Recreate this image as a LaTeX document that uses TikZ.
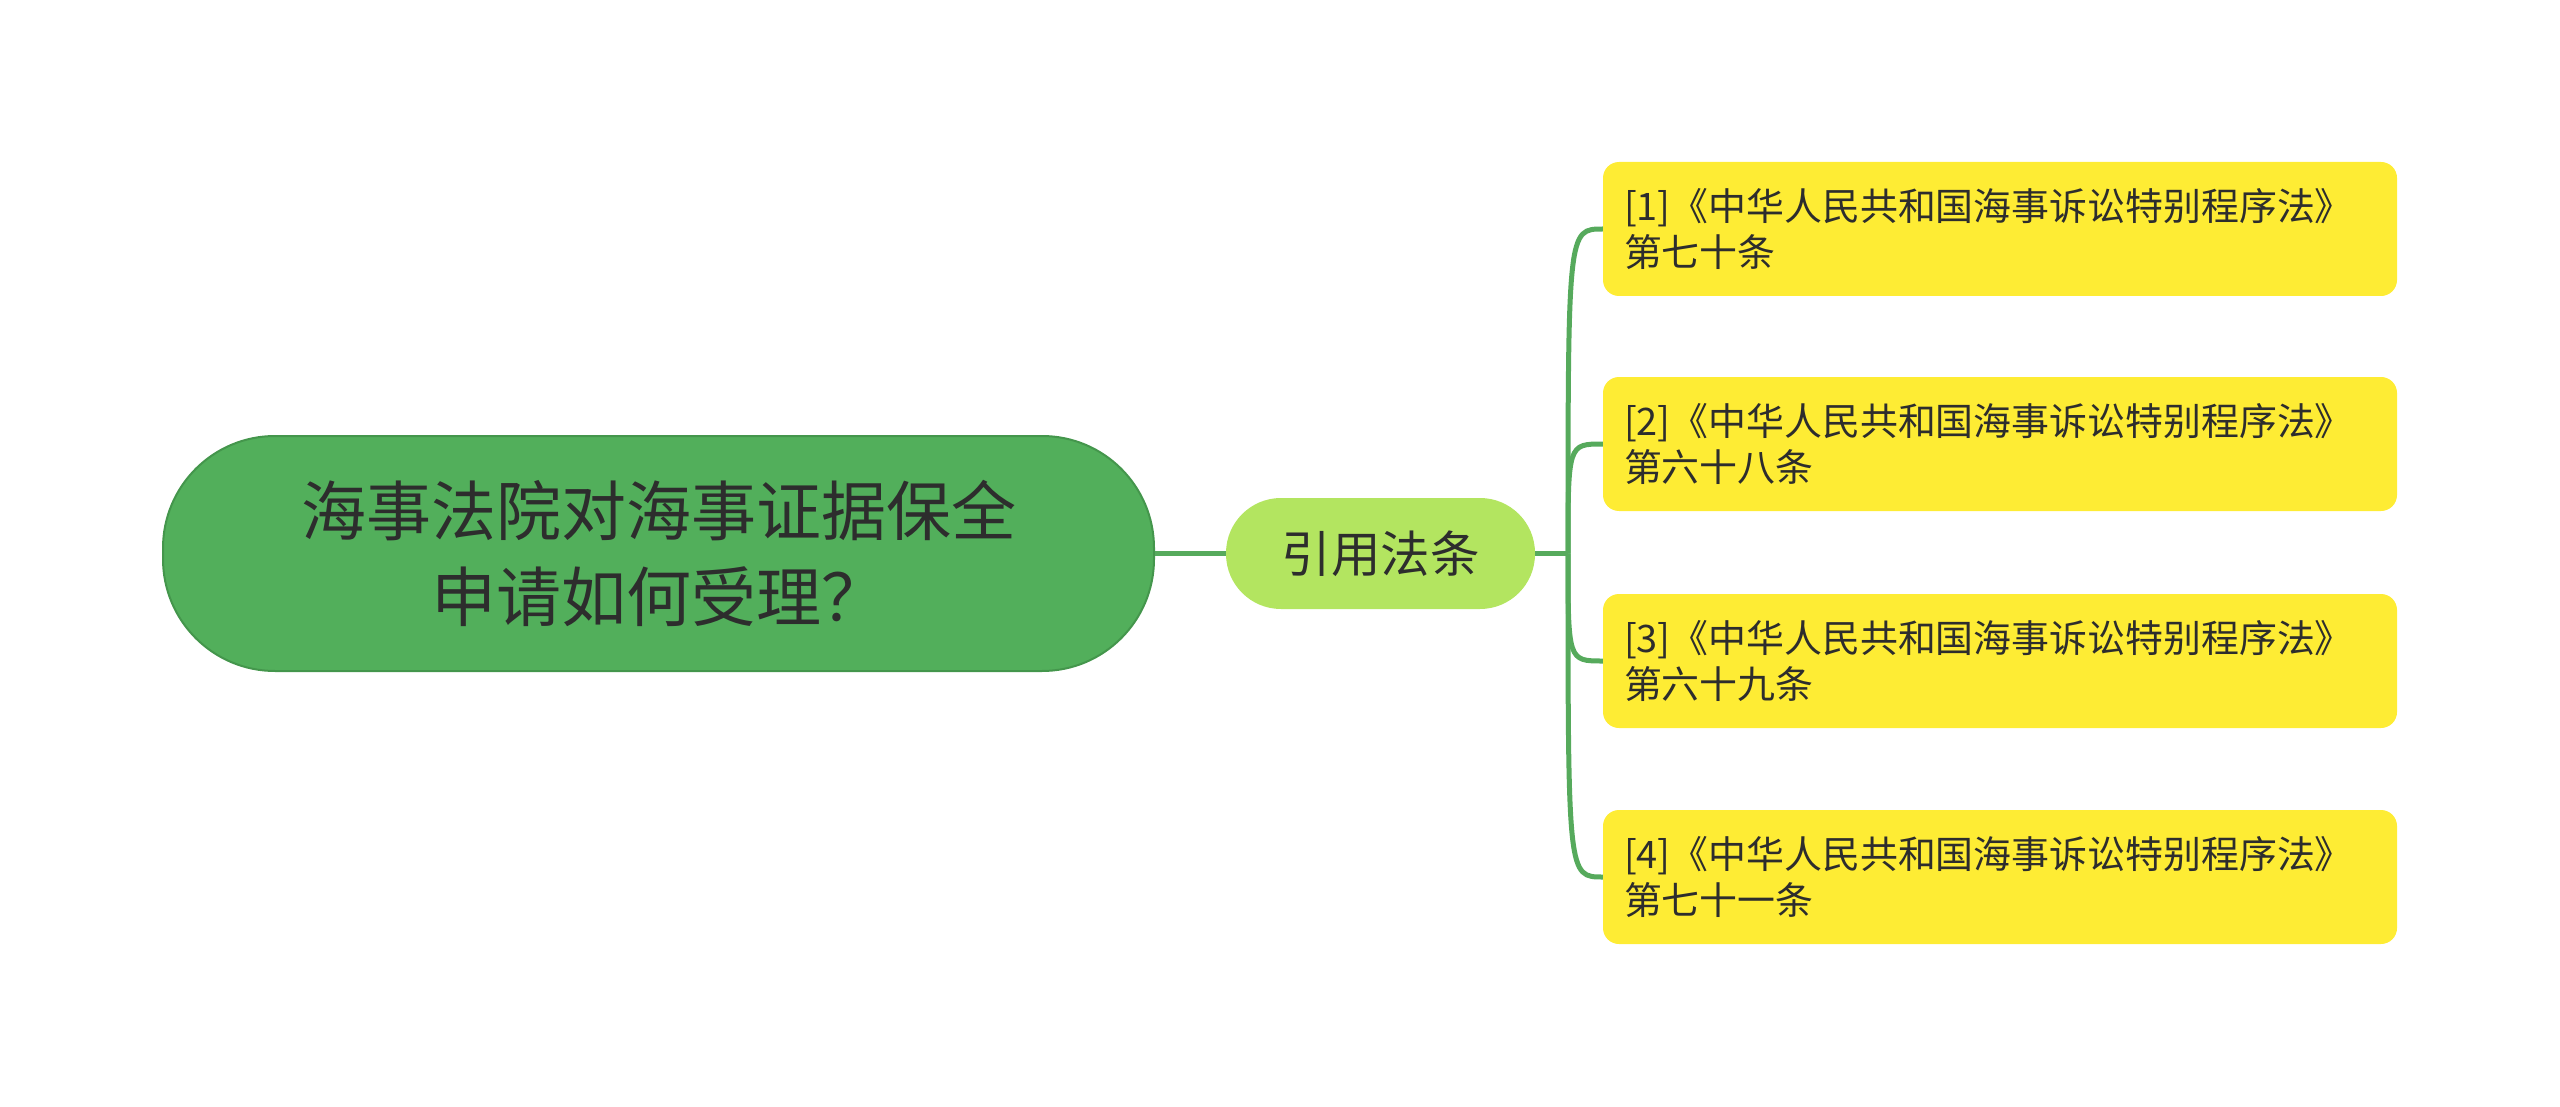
\documentclass[tikz,border=0pt]{standalone}
\usepackage{fontspec}
\setmainfont{Noto Sans CJK SC}
\definecolor{rootfill}{RGB}{82,175,91}
\definecolor{rootline}{RGB}{68,150,76}
\definecolor{midfill}{RGB}{179,229,96}
\definecolor{leaffill}{RGB}{254,236,52}
\definecolor{conncol}{RGB}{86,170,92}
\definecolor{txt}{RGB}{45,45,45}
\begin{document}
\begin{tikzpicture}[x=1pt,y=-1pt,
  rootbox/.style={draw=rootline,line width=2pt,fill=rootfill,rounded corners=112pt,
    minimum width=991pt,minimum height=235pt,align=center,text=txt,
    font=\fontsize{65}{86}\selectfont},
  midbox/.style={fill=midfill,rounded corners=55pt,minimum width=309pt,minimum height=111pt,
    text=txt,font=\fontsize{49.5}{56}\selectfont},
  leafbox/.style={fill=leaffill,rounded corners=16pt,minimum width=794pt,minimum height=134pt,
    text width=752pt,inner xsep=21pt,align=left,text=txt,
    font=\fontsize{37.9}{46}\selectfont},
  conn/.style={draw=conncol,line width=5pt}]
\useasboundingbox (0,0) rectangle (2560,1107);
\node[rootbox] (root) at (658.5,553.5) {海事法院对海事证据保全\\申请如何受理？};
\node[midbox] (mid) at (1380.5,553.5) {引用法条};
\node[leafbox] (b1) at (2000,229) {[1]《中华人民共和国海事诉讼特别程序法》\\第七十条};
\node[leafbox] (b2) at (2000,444) {[2]《中华人民共和国海事诉讼特别程序法》\\第六十八条};
\node[leafbox] (b3) at (2000,661) {[3]《中华人民共和国海事诉讼特别程序法》\\第六十九条};
\node[leafbox] (b4) at (2000,877) {[4]《中华人民共和国海事诉讼特别程序法》\\第七十一条};
\coordinate (j) at (1568,553.5);
\draw[conn] (root.east) -- (mid.west);
\draw[conn] (mid.east) -- (j);
\foreach \b in {b1,b2,b3,b4}{
  \draw[conn] (j) .. controls (j |- \b.west) .. (\b.west);
}
\end{tikzpicture}
\end{document}
